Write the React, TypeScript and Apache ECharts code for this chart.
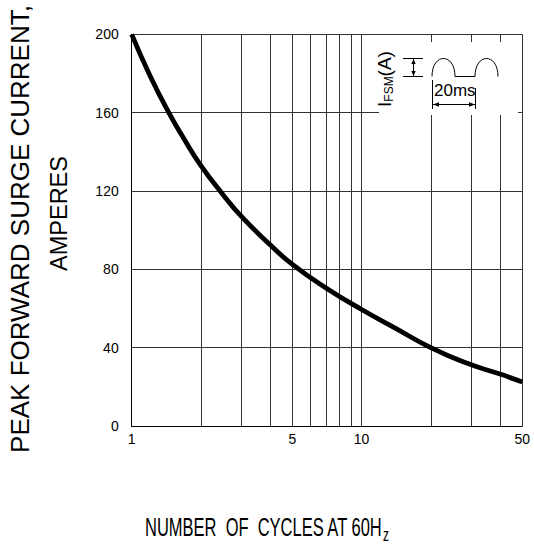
import React, { useEffect, useRef } from 'react';
import * as echarts from 'echarts';

// Data
const cycles = [1, 1.2, 1.45, 1.7, 2, 2.5, 3, 4, 5, 7, 10, 14, 20, 28, 40, 50];
const current = [200, 179, 160, 146, 133, 118, 107, 92.5, 82.5, 70.5, 59.5, 50, 40, 32.5, 26.5, 22.5];
const xGridValues = [1, 2, 3, 4, 5, 6, 7, 8, 9, 10, 20, 30, 40, 50];
const xLabelValues = [1, 5, 10, 50];
const yMin = 0;
const yMax = 200;
const yInterval = 40;

const FONT = '"Liberation Sans", Arial, sans-serif';

export default function App() {
  const ref = useRef<HTMLDivElement>(null);

  useEffect(() => {
    if (!ref.current) return;
    const chart = echarts.init(ref.current, null, { renderer: 'svg' });

    const lineStyle = { stroke: '#000', lineWidth: 1 };
    const arrowStyle = { fill: '#000' };

    chart.setOption({
      animation: false,
      backgroundColor: '#fff',
      textStyle: { fontFamily: FONT },
      grid: { left: 131.7, right: 11.7, top: 34.3, bottom: 118, containLabel: false },
      xAxis: {
        type: 'log',
        logBase: 10,
        min: 1,
        max: 50,
        axisLine: { show: true, onZero: false, lineStyle: { color: '#000', width: 1 } },
        axisTick: { show: false, customValues: xGridValues },
        axisLabel: {
          customValues: xLabelValues,
          color: '#000',
          fontSize: 14,
          fontFamily: FONT,
          margin: 6,
          formatter: (v: number) => String(Math.round(v)),
        },
        splitLine: { show: true, lineStyle: { color: '#333', width: 1 } },
        minorSplitLine: { show: false },
      },
      yAxis: {
        type: 'value',
        min: yMin,
        max: yMax,
        interval: yInterval,
        axisLine: { show: true, lineStyle: { color: '#000', width: 1 } },
        axisTick: { show: false },
        axisLabel: { color: '#000', fontSize: 14, fontFamily: FONT, margin: 13 },
        splitLine: { show: true, lineStyle: { color: '#333', width: 1 } },
      },
      series: [
        {
          type: 'line',
          data: cycles.map((c, i) => [c, current[i]]),
          smooth: 0.5,
          symbol: 'none',
          lineStyle: { color: '#000', width: 4.8 },
          z: 3,
        },
      ],
      graphic: [
        // Y title
        {
          type: 'text',
          x: 20,
          y: 229,
          rotation: Math.PI / 2,
          style: {
            text: 'PEAK FORWARD SURGE CURRENT,',
            fontSize: 26,
            fontFamily: FONT,
            fill: '#000',
            align: 'center',
            verticalAlign: 'middle',
          },
        },
        {
          type: 'text',
          x: 59,
          y: 213.5,
          rotation: Math.PI / 2,
          style: {
            text: 'AMPERES',
            fontSize: 23.5,
            fontFamily: FONT,
            fill: '#000',
            align: 'center',
            verticalAlign: 'middle',
          },
        },
        // X title
        {
          type: 'text',
          x: 145,
          y: 510,
          scaleX: 0.66,
          style: {
            text: 'NUMBER  OF  CYCLES AT 60H{z|z}',
            fontSize: 25,
            fontFamily: FONT,
            fill: '#000',
            align: 'left',
            verticalAlign: 'top',
            lineHeight: 34,
            rich: {
              z: { fontSize: 18, fontFamily: FONT, verticalAlign: 'bottom', lineHeight: 34 },
            },
          },
        },
        // Inset white box
        {
          type: 'rect',
          z: 10,
          shape: { x: 379, y: 42, width: 139, height: 73 },
          style: { fill: '#fff' },
        },
        // I_FSM(A)
        {
          type: 'text',
          z: 11,
          x: 384,
          y: 79,
          rotation: Math.PI / 2,
          style: {
            text: '{b|I}{s|FSM}{b|(A)}',
            fontFamily: FONT,
            fill: '#000',
            align: 'center',
            verticalAlign: 'middle',
            rich: {
              b: { fontSize: 19, fontFamily: FONT, verticalAlign: 'middle', lineHeight: 22 },
              s: { fontSize: 12, fontFamily: FONT, verticalAlign: 'bottom', lineHeight: 22 },
            },
          },
        },
        // Amplitude marker
        { type: 'line', z: 11, shape: { x1: 403, y1: 58.5, x2: 423, y2: 58.5 }, style: lineStyle },
        { type: 'line', z: 11, shape: { x1: 403, y1: 76.5, x2: 423, y2: 76.5 }, style: lineStyle },
        { type: 'line', z: 11, shape: { x1: 413.5, y1: 59, x2: 413.5, y2: 76 }, style: lineStyle },
        { type: 'polygon', z: 11, shape: { points: [[413.5, 59], [411.3, 64], [415.7, 64]] }, style: arrowStyle },
        { type: 'polygon', z: 11, shape: { points: [[413.5, 76], [411.3, 71], [415.7, 71]] }, style: arrowStyle },
        // Waveform
        {
          type: 'bezierCurve',
          z: 11,
          shape: { x1: 432, y1: 76.5, cpx1: 432, cpy1: 52.5, cpx2: 455, cpy2: 52.5, x2: 455, y2: 76.5 },
          style: { stroke: '#000', lineWidth: 1, fill: null },
        },
        { type: 'line', z: 11, shape: { x1: 455, y1: 76.5, x2: 475, y2: 76.5 }, style: lineStyle },
        {
          type: 'bezierCurve',
          z: 11,
          shape: { x1: 475, y1: 76.5, cpx1: 475, cpy1: 52.5, cpx2: 498, cpy2: 52.5, x2: 498, y2: 76.5 },
          style: { stroke: '#000', lineWidth: 1, fill: null },
        },
        // 20ms marker
        { type: 'line', z: 11, shape: { x1: 432.5, y1: 80, x2: 432.5, y2: 109 }, style: lineStyle },
        { type: 'line', z: 11, shape: { x1: 475.5, y1: 88, x2: 475.5, y2: 109 }, style: lineStyle },
        { type: 'line', z: 11, shape: { x1: 433, y1: 104.5, x2: 475, y2: 104.5 }, style: lineStyle },
        { type: 'polygon', z: 11, shape: { points: [[433, 104.5], [439, 102.3], [439, 106.7]] }, style: arrowStyle },
        { type: 'polygon', z: 11, shape: { points: [[475, 104.5], [469, 102.3], [469, 106.7]] }, style: arrowStyle },
        {
          type: 'text',
          z: 11,
          x: 434,
          y: 90.5,
          style: {
            text: '20ms',
            fontSize: 17,
            fontFamily: FONT,
            fill: '#000',
            align: 'left',
            verticalAlign: 'middle',
          },
        },
      ],
    });

    return () => chart.dispose();
  }, []);

  return (
    <div
      ref={ref}
      style={{ position: 'absolute', left: 0, top: 0, width: 534, height: 544, background: '#fff' }}
    />
  );
}
